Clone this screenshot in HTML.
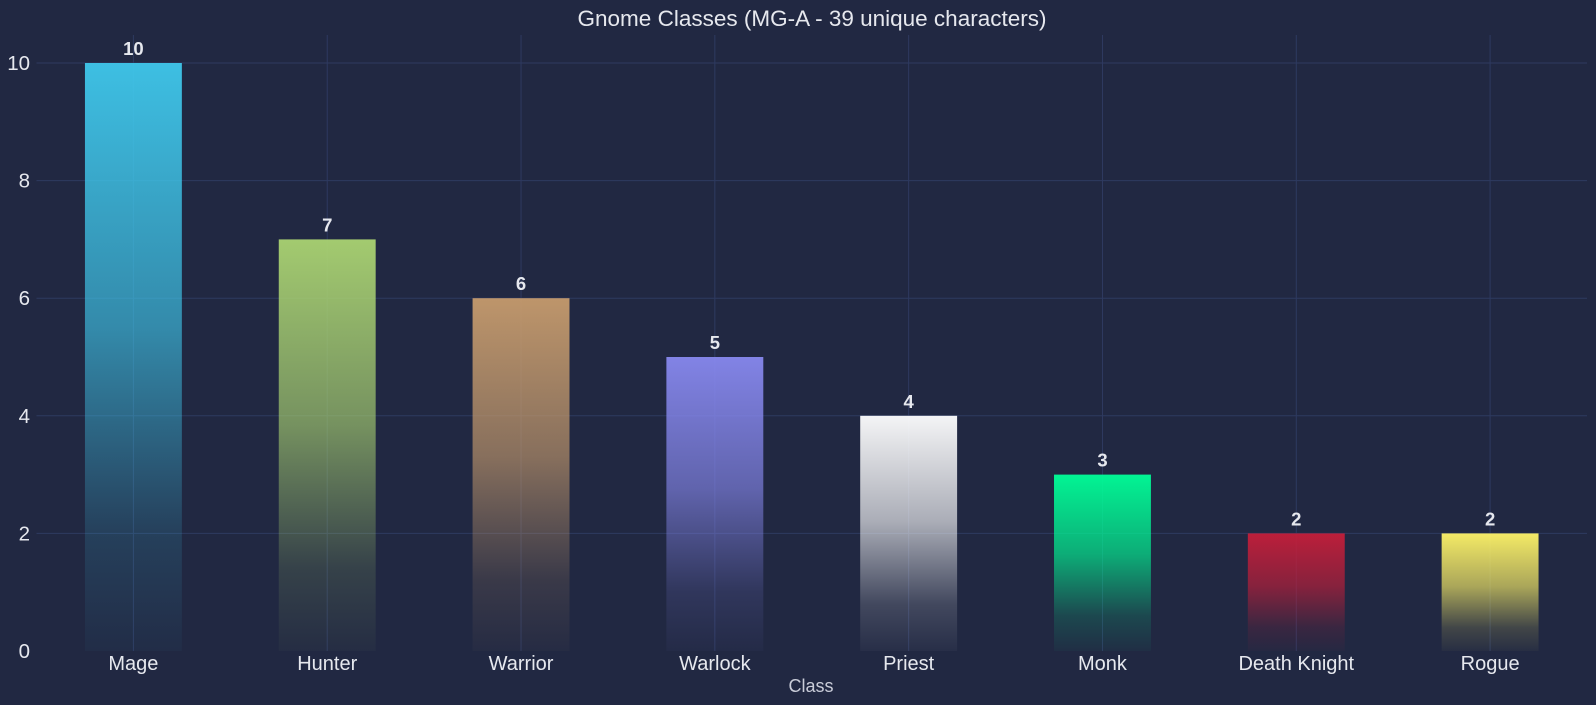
<!DOCTYPE html>
<html><head><meta charset="utf-8">
<style>
html,body{margin:0;padding:0;background:#212842;}
svg{display:block;font-family:"Liberation Sans",sans-serif;}
</style></head>
<body>
<svg id="chart" width="1596" height="705" viewBox="0 0 1596 705">
<rect x="0" y="0" width="1596" height="705" fill="#212842"/>
<text x="812" y="26" text-anchor="middle" fill="#e6e8ee" font-size="22.5">Gnome Classes (MG-A - 39 unique characters)</text>
<defs id="defs"></defs>
<g id="grid"></g>
<g id="bars"></g>
<g id="labels"></g>
<text x="811" y="692" text-anchor="middle" fill="#c9ccd8" font-size="18">Class</text>
</svg>
<script>
const categories = ["Mage","Hunter","Warrior","Warlock","Priest","Monk","Death Knight","Rogue"];
const counts = [10,7,6,5,4,3,2,2];
const barColors = ["#3fc7eb","#aad372","#c69b6d","#8788ee","#ffffff","#00ff98","#c41e3a","#fff468"];
const yTicks = [0,2,4,6,8,10];

const NS="http://www.w3.org/2000/svg";
const plotL=36.5, plotR=1587, plotT=35;
function yS(v){return 651-v*58.8;}
const band=(plotR-plotL)/categories.length;
function x(i){return plotL+band*(i+0.5);}
const barW=band*0.5;

function mk(tag,attrs,parent){const e=document.createElementNS(NS,tag);for(const k in attrs)e.setAttribute(k,attrs[k]);parent.appendChild(e);return e;}
const grid=document.getElementById('grid'),bars=document.getElementById('bars'),labels=document.getElementById('labels'),defs=document.getElementById('defs');

yTicks.forEach(t=>{
  if(t>0){const l=mk('line',{x1:plotL,x2:plotR,y1:yS(t),y2:yS(t),stroke:'#2e3a60','stroke-width':1},grid);
  
  }
  const tx=mk('text',{x:30,y:yS(t)+7,'text-anchor':'end',fill:'#e6e8ee','font-size':20.5},labels);
  tx.textContent=t;
  
  
});
categories.forEach((c,i)=>{
  const l=mk('line',{x1:x(i),x2:x(i),y1:plotT,y2:yS(0),stroke:'#2e3a60','stroke-width':1},grid);
  
  
  const g=mk('linearGradient',{id:'g'+i,x1:0,y1:0,x2:0,y2:1},defs);
  mk('stop',{offset:'0','stop-color':barColors[i],'stop-opacity':0.95},g);
  mk('stop',{offset:'0.45','stop-color':barColors[i],'stop-opacity':0.62},g);
  mk('stop',{offset:'0.8','stop-color':barColors[i],'stop-opacity':0.15},g);
  mk('stop',{offset:'1','stop-color':barColors[i],'stop-opacity':0.03},g);
  const r=mk('rect',{x:x(i)-barW/2,y:yS(counts[i]),width:barW,height:yS(0)-yS(counts[i]),fill:'url(#g'+i+')'},bars);
  
  
  const v=mk('text',{x:x(i),y:yS(counts[i])-8,'text-anchor':'middle',fill:'#e6e8ee','font-size':18.5,'font-weight':'bold'},labels);
  v.textContent=counts[i];
  
  
  const cl=mk('text',{x:x(i),y:670,'text-anchor':'middle',fill:'#e6e8ee','font-size':20},labels);
  cl.textContent=c;
  
  
});
</script>
</body></html>
